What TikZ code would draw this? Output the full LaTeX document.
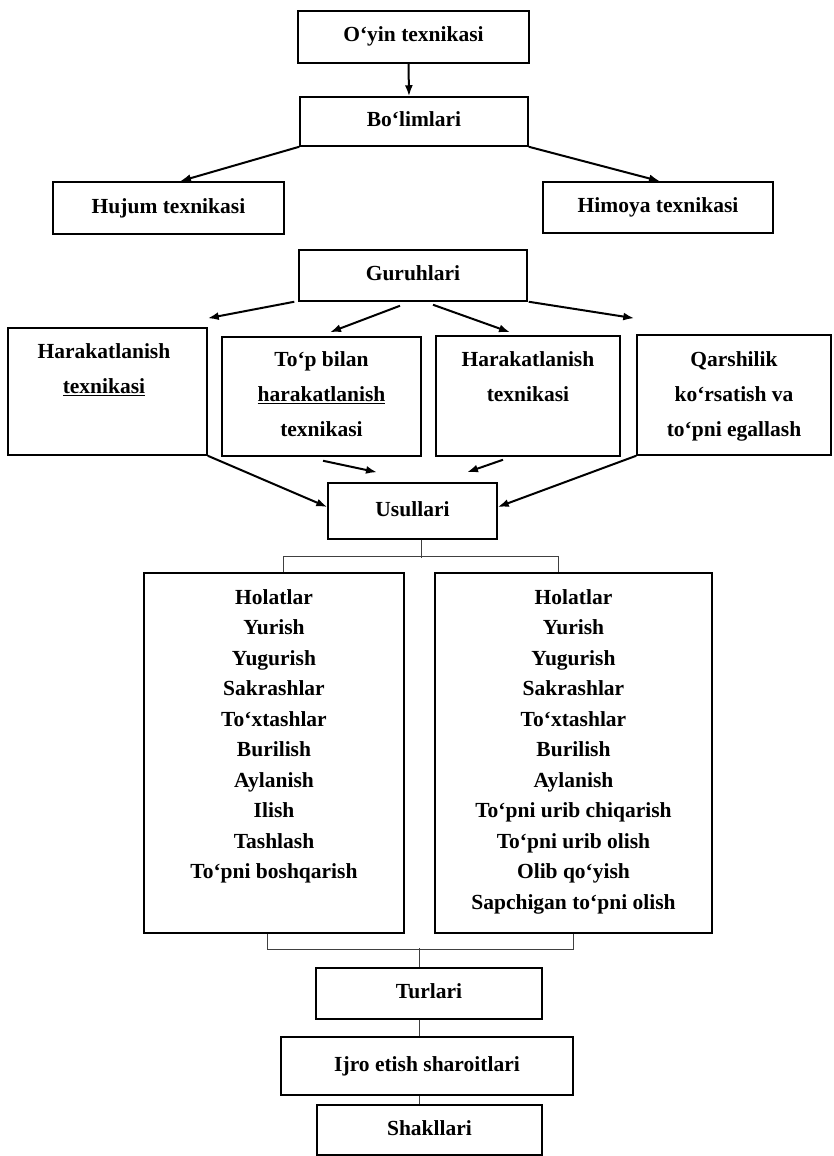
\documentclass[tikz,border=0pt]{standalone}
\usepackage{fontspec}
\setmainfont{Liberation Serif}
\usetikzlibrary{arrows.meta,calc}
\begin{document}
\begin{tikzpicture}[x=1pt,y=-1pt,
  box/.style={draw, line width=1.5pt, inner sep=0pt, font=\bfseries\fontsize{21.5}{26}\selectfont, text height=14pt, text depth=4pt},
  frame/.style={draw, line width=1.5pt, inner sep=0pt},
  txt/.style={inner sep=0pt, anchor=north, align=center, font=\bfseries\fontsize{21.5}{35}\selectfont},
  lst/.style={inner sep=0pt, anchor=north, align=center, font=\bfseries\fontsize{21.5}{30.5}\selectfont},
  arr/.style={line width=2pt, -{Latex[length=11pt,width=8pt]}},
  thinline/.style={line width=1pt, black!75}]
\useasboundingbox (0,0) rectangle (833,1156);

\node[box, minimum width=231, minimum height=52] (top) at (413.5,37) {O‘yin texnikasi};
\node[box, minimum width=228, minimum height=49] (bol) at (414,121.5) {Bo‘limlari};
\node[box, minimum width=231, minimum height=52] (huj) at (168.5,208) {Hujum texnikasi};
\node[box, minimum width=230, minimum height=51] (him) at (658,207.5) {Himoya texnikasi};
\node[box, minimum width=228, minimum height=51] (gur) at (413,275.5) {Guruhlari};

\node[frame, minimum width=199, minimum height=127] (h1) at (107.5,391.5) {};
\node[frame, minimum width=199, minimum height=119] (tb) at (321.5,396.5) {};
\node[frame, minimum width=184, minimum height=120] (h2) at (528,396) {};
\node[frame, minimum width=194, minimum height=120] (qa) at (734,395) {};
\node[txt] (h1t) at (104,343) {Harakatlanish\\\underline{texnikasi}};
\node[txt] (tbt) at (321.5,351) {To‘p bilan\\\underline{harakatlanish}\\texnikasi};
\node[txt] (h2t) at (528,351) {Harakatlanish\\texnikasi};
\node[txt] (qat) at (734,351) {Qarshilik\\ko‘rsatish va\\to‘pni egallash};

\node[box, minimum width=169, minimum height=56] (usu) at (412.5,511) {Usullari};

\node[frame, minimum width=260, minimum height=360] (L) at (274,753) {};
\node[frame, minimum width=277, minimum height=360] (R) at (573.5,753) {};
\node[lst] (Lt) at (274,589) {Holatlar\\Yurish\\Yugurish\\Sakrashlar\\To‘xtashlar\\Burilish\\Aylanish\\Ilish\\Tashlash\\To‘pni boshqarish};
\node[lst] (Rt) at (573.5,589) {Holatlar\\Yurish\\Yugurish\\Sakrashlar\\To‘xtashlar\\Burilish\\Aylanish\\To‘pni urib chiqarish\\To‘pni urib olish\\Olib qo‘yish\\Sapchigan to‘pni olish};

\node[box, minimum width=226, minimum height=51] (tur) at (429,993.5) {Turlari};
\node[box, minimum width=292, minimum height=58] (ijr) at (427,1066) {Ijro etish sharoitlari};
\node[box, minimum width=225, minimum height=50] (sha) at (429.5,1130) {Shakllari};

% upper arrows
\draw[arr] ([xshift=-5pt]top.south) -- ([xshift=-5pt]bol.north);
\draw[arr] (bol.south west) -- ([xshift=11.5pt]huj.north);
\draw[arr] (bol.south east) -- ([xshift=2pt]him.north);
\draw[arr] ([xshift=-4pt]gur.south west) -- ([yshift=9pt]h1.north east);
\draw[arr] ([xshift=-13pt,yshift=-4pt]gur.south) -- ([xshift=8.5pt,yshift=4pt]tb.north);
\draw[arr] ([xshift=20pt,yshift=-3pt]gur.south) -- ([xshift=-18pt,yshift=3pt]h2.north);
\draw[arr] ([xshift=1pt]gur.south east) -- ([xshift=-2pt,yshift=16pt]qa.north west);

% arrows into Usullari
\draw[arr] (h1.south east) -- ([yshift=4pt]usu.west);
\draw[arr] ([xshift=1.5pt,yshift=-4pt]tb.south) -- ([xshift=-35.5pt,yshift=10pt]usu.north);
\draw[arr] ([xshift=-25pt,yshift=-3pt]h2.south) -- ([xshift=54.5pt,yshift=10pt]usu.north);
\draw[arr] (qa.south west) -- ([yshift=4pt]usu.east);

% thin connectors
\draw[thinline] ([xshift=8.5pt]usu.south) -- ([xshift=8.5pt,yshift=-18pt]usu.south);
\draw[thinline] ([xshift=9pt]L.north) |- ([xshift=-15.5pt,yshift=16pt]R.north) -- ([xshift=-15.5pt]R.north);
\draw[thinline] ([xshift=-7pt]L.south) |- ([xshift=-0.5pt,yshift=-16pt]R.south) -- ([xshift=-0.5pt]R.south);
\draw[thinline] ([xshift=-10pt,yshift=19pt]tur.north) -- ([xshift=-10pt]tur.north);
\draw[thinline] ([xshift=-10pt]tur.south) -- ([xshift=-8pt]ijr.north);
\draw[thinline] ([xshift=-8pt]ijr.south) -- ([xshift=-10.5pt]sha.north);
\end{tikzpicture}
\end{document}
